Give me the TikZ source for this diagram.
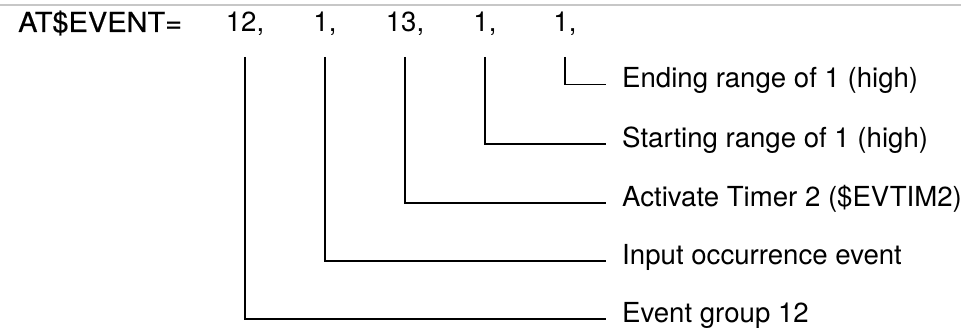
\documentclass[tikz,border=0pt]{standalone}
\usepackage{fontspec}
\setmainfont{TeX Gyre Heros}
\newfontfamily\cmdfont[FakeStretch=1.05,FakeBold=0.4]{TeX Gyre Heros}
\begin{document}
\begin{tikzpicture}[x=1pt,y=-1pt,
  txt/.style={inner sep=0pt, font=\fontsize{27.6}{33}\selectfont},
  num/.style={txt, anchor=base},
  lbl/.style={txt, anchor=base west},
  lead/.style={line width=1.6pt, line cap=butt, line join=miter}]
  \useasboundingbox (0,0) rectangle (961,328);
  % thin rule along the top edge
  \draw[black!22, line width=1.5pt] (0,4.8) -- (961,4.8);

  % command line
  \node[lbl, font=\fontsize{27.6}{33}\cmdfont] (cmd) at (18,32) {AT\$EVENT=};
  \node[num] (n1) at (245,32) {12,};
  \node[num] (n2) at (325,32) {1,};
  \node[num] (n3) at (405,32) {13,};
  \node[num] (n4) at (485,32) {1,};
  \node[num] (n5) at (565,32) {1,};

  % parameter descriptions
  \node[lbl] (l5) at (622,88)  {Ending range of 1 (high)};
  \node[lbl] (l4) at (622,147.5) {Starting range of 1 (high)};
  \node[lbl] (l3) at (622,206.5) {Activate Timer 2 (\$EVTIM2)};
  \node[lbl] (l2) at (622,264.5) {Input occurrence event};
  \node[lbl] (l1) at (622,322.5) {Event group 12};

  % leaders from each value down and across to its description
  \foreach \i in {1,...,5}{
    \coordinate (t\i) at ([yshift=-25pt]n\i.base);
    \coordinate (e\i) at ([xshift=-16pt,yshift=3.5pt]l\i.base west);
    \draw[lead] (t\i) |- (e\i);
  }
\end{tikzpicture}
\end{document}
